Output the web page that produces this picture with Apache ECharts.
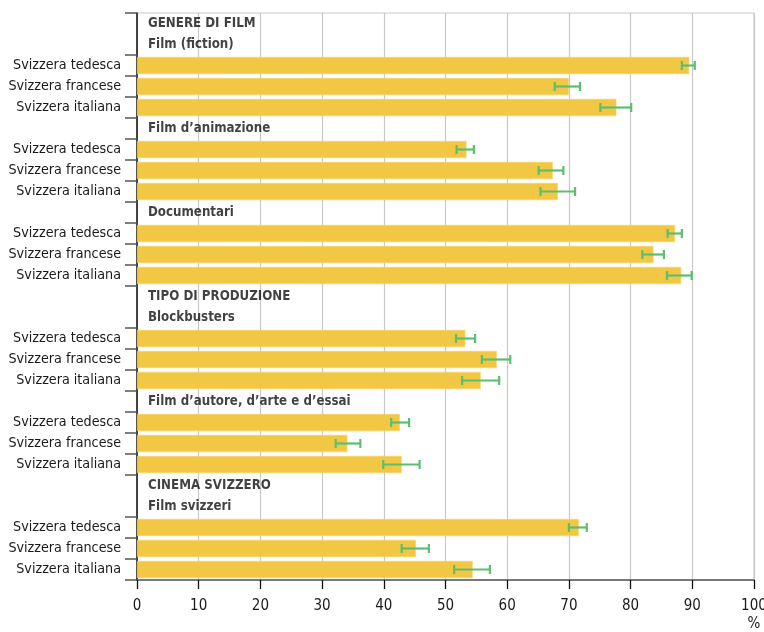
<!DOCTYPE html>
<html>
<head>
<meta charset="utf-8">
<script src="https://cdn.jsdelivr.net/npm/echarts@6/dist/echarts.min.js"></script>
<style>
html,body{margin:0;padding:0;background:#fff;}
#chart{width:764px;height:632px;}
</style>
</head>
<body>
<div id="chart"></div>
<script>
// ---- data ----
const sectionTitles = ['GENERE DI FILM', 'TIPO DI PRODUZIONE', 'CINEMA SVIZZERO'];
const groupNames = ['Film (fiction)', 'Film d’animazione', 'Documentari', 'Blockbusters', 'Film d’autore, d’arte e d’essai', 'Film svizzeri'];
const groupSection = [0, -1, -1, 1, -1, 2]; // section header shown before the group (-1 = none)
const regions = ['Svizzera tedesca', 'Svizzera francese', 'Svizzera italiana'];
const fiction      = [89.5, 70.0, 77.7];
const animazione   = [53.4, 67.4, 68.2];
const documentari  = [87.2, 83.7, 88.2];
const blockbusters = [53.2, 58.3, 55.7];
const autore       = [42.6, 34.1, 42.9];
const svizzeri     = [71.6, 45.2, 54.4];
const fictionLow = [88.3, 67.7, 75.1],      fictionHigh = [90.4, 71.8, 80.1];
const animazioneLow = [51.8, 65.1, 65.4],   animazioneHigh = [54.6, 69.1, 71.0];
const documentariLow = [86.0, 81.9, 85.9],  documentariHigh = [88.3, 85.4, 89.9];
const blockbustersLow = [51.7, 55.9, 52.7], blockbustersHigh = [54.8, 60.5, 58.7];
const autoreLow = [41.2, 32.2, 39.9],       autoreHigh = [44.1, 36.2, 45.8];
const svizzeriLow = [70.0, 42.9, 51.4],     svizzeriHigh = [72.9, 47.3, 57.2];
const xTicks = [0, 10, 20, 30, 40, 50, 60, 70, 80, 90, 100];

const groupValues = [fiction, animazione, documentari, blockbusters, autore, svizzeri];
const groupLow = [fictionLow, animazioneLow, documentariLow, blockbustersLow, autoreLow, svizzeriLow];
const groupHigh = [fictionHigh, animazioneHigh, documentariHigh, blockbustersHigh, autoreHigh, svizzeriHigh];

// ---- build rows ----
const cats = [], barData = [], errData = [], headerData = [], noTickRows = {};
groupNames.forEach((g, gi) => {
  if (groupSection[gi] >= 0) {
    headerData.push({ value: [0, cats.length], name: sectionTitles[groupSection[gi]] });
    cats.push('#s' + gi); barData.push(null);
    noTickRows[cats.length] = true;
  }
  headerData.push({ value: [0, cats.length], name: g });
  cats.push('#g' + gi); barData.push(null);
  regions.forEach((r, ri) => {
    errData.push([groupLow[gi][ri], groupHigh[gi][ri], cats.length]);
    cats.push(r + '|' + gi);
    barData.push(groupValues[gi][ri]);
  });
});

const FONT = '"DejaVu Sans Condensed", "Liberation Sans Narrow", sans-serif';
const chart = echarts.init(document.getElementById('chart'), null, { renderer: 'canvas' });
chart.setOption({
  animation: false,
  backgroundColor: '#fff',
  grid: { left: 137, right: 10, top: 13, bottom: 52, containLabel: false, outerBoundsMode: 'none',
    show: true, borderColor: '#c8c8c8', borderWidth: 1 },
  xAxis: {
    type: 'value', min: 0, max: 100, interval: 10,
    name: '%', nameLocation: 'end', nameGap: 0,
    nameTextStyle: { fontFamily: FONT, fontSize: 15, color: '#1a1a1a', align: 'center', verticalAlign: 'top', padding: [37, 0, 0, 0] },
    axisLine: { show: true, lineStyle: { color: '#555', width: 1.5 } },
    axisTick: { show: true, length: 9, lineStyle: { color: '#111', width: 1.3 } },
    axisLabel: { fontFamily: FONT, fontSize: 15, color: '#1a1a1a', margin: 19,
      formatter: v => xTicks.indexOf(v) >= 0 ? String(v) : '' },
    splitLine: { show: true, lineStyle: { color: '#c8c8c8', width: 1.2 } }
  },
  yAxis: {
    type: 'category', inverse: true, data: cats,
    axisLine: { show: true, lineStyle: { color: '#111', width: 1.5 } },
    axisTick: { show: true, length: 12, lineStyle: { color: '#555', width: 1.5 },
      interval: (idx) => !noTickRows[idx] },
    axisLabel: { fontFamily: FONT, fontSize: 14.2, color: '#1a1a1a', margin: 16, interval: 0,
      formatter: v => v.charAt(0) === '#' ? '' : v.split('|')[0] },
    splitLine: { show: false }
  },
  series: [
    {
      type: 'bar', data: barData, barCategoryGap: '18%',
      itemStyle: { color: '#f2c744', borderColor: '#f6d36a', borderWidth: 0.6 }
    },
    {
      type: 'custom', data: errData, encode: { x: [0, 1], y: 2 }, z: 5,
      renderItem: function (params, api) {
        const y = api.value(2);
        const p1 = api.coord([api.value(0), y]);
        const p2 = api.coord([api.value(1), y]);
        const h = 4.5;
        const st = { stroke: '#5cbf6e', lineWidth: 2.2 };
        return {
          type: 'group',
          children: [
            { type: 'line', shape: { x1: p1[0], y1: p1[1], x2: p2[0], y2: p2[1] }, style: st },
            { type: 'line', shape: { x1: p1[0], y1: p1[1] - h, x2: p1[0], y2: p1[1] + h }, style: st },
            { type: 'line', shape: { x1: p2[0], y1: p2[1] - h, x2: p2[0], y2: p2[1] + h }, style: st }
          ]
        };
      }
    },
    {
      type: 'scatter', data: headerData, symbolSize: 0, silent: true,
      label: { show: true, position: 'right', distance: 11, formatter: p => p.name,
        fontFamily: FONT, fontSize: 13.2, fontWeight: 'bold', color: '#111' }
    }
  ]
});
</script>
</body>
</html>
